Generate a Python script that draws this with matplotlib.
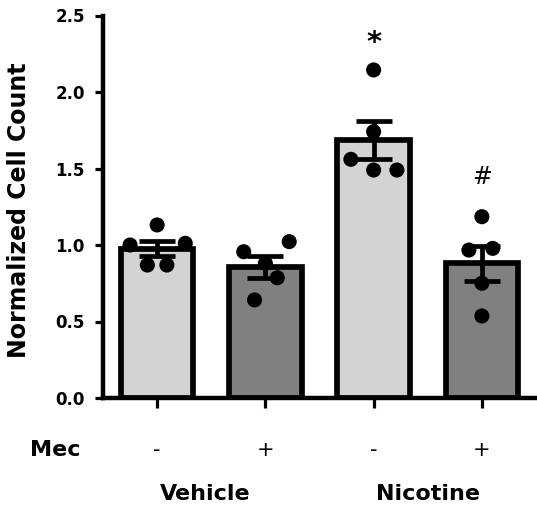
import matplotlib
matplotlib.use("Agg")
import matplotlib.pyplot as plt
import matplotlib.transforms as mtransforms
import numpy as np

# ---- data ----
mec_labels = ["-", "+", "-", "+"]
groups = ["Vehicle", "Nicotine"]
means = [0.976, 0.857, 1.685, 0.880]
sems = [0.048, 0.070, 0.125, 0.113]
points = [
    [1.131, 1.000, 1.011, 0.869, 0.869],
    [0.956, 1.022, 0.786, 0.641, 0.880],
    [2.144, 1.741, 1.560, 1.490, 1.490],
    [1.185, 0.967, 0.978, 0.750, 0.536],
]
# horizontal jitter of the dots (data units)
offsets = [
    [0.00, -0.25, 0.26, -0.09, 0.09],
    [-0.20, 0.22, 0.11, -0.10, 0.00],
    [0.00, 0.00, -0.21, 0.00, 0.215],
    [0.00, -0.12, 0.10, 0.00, 0.00],
]
marks = {0: None, 1: None, 2: "*", 3: "#"}
mark_y = [None, None, 2.32, 1.446]
yticks = [0.0, 0.5, 1.0, 1.5, 2.0, 2.5]
ytick_labels = ["0.0", "0.5", "1.0", "1.5", "2.0", "2.5"]
bar_colors = ["#D3D3D3", "#808080", "#D3D3D3", "#808080"]

W, H = 537, 508
fig = plt.figure(figsize=(W / 100, H / 100), dpi=100)
ax = fig.add_axes([103 / W, 1 - 398 / H, 433 / W, 382.5 / H])

x = np.arange(len(means))
ax.bar(x, means, width=0.67, color=bar_colors, edgecolor="black",
       linewidth=4.1, zorder=1)

for i in range(len(means)):
    xs = x[i] + np.array(offsets[i])
    ax.scatter(xs, points[i], s=118, color="black", zorder=3,
               edgecolors="none", clip_on=False)

ax.errorbar(x, means, yerr=sems, fmt="none", ecolor="black",
            elinewidth=3.4, capsize=13.3, capthick=3.4, zorder=4)

for i in range(len(means)):
    m = marks[i]
    if m:
        fs = 21 if m == "*" else 17
        fw = "bold" if m == "*" else "normal"
        ax.text(x[i], mark_y[i], m, ha="center", va="center",
                fontsize=fs, family="DejaVu Sans", fontweight=fw,
                color="black")

ax.set_xlim(-0.5, 3.5)
ax.set_ylim(0, 2.5)
ax.set_yticks(yticks)
ax.set_yticklabels(ytick_labels, family="DejaVu Sans", fontweight="bold",
                   fontsize=12)
ax.set_xticks(x)
ax.set_xticklabels([])

for s in ["top", "right"]:
    ax.spines[s].set_visible(False)
for s in ["left", "bottom"]:
    ax.spines[s].set_linewidth(3.2)
ax.tick_params(axis="y", length=6, width=2.3, pad=7)
ax.tick_params(axis="x", length=7.5, width=2.3)

ax.set_ylabel("Normalized Cell Count", family="DejaVu Sans",
              fontweight="bold", fontsize=17, va="center")
ax.yaxis.set_label_coords((19 - 103) / 433, (398 - 210) / 382.5)

trans = mtransforms.blended_transform_factory(ax.transData, ax.transAxes)
y_mec = (398 - 450) / 382.5
y_grp = (398 - 494) / 382.5
ax.text((55 - 103) / 433, y_mec, "Mec", transform=ax.transAxes,
        ha="center", va="center", family="DejaVu Sans", fontweight="bold",
        fontsize=16)
for i, lab in enumerate(mec_labels):
    ax.text(x[i], y_mec, lab, transform=trans, ha="center", va="center",
            family="DejaVu Sans", fontsize=15)
for j, g in enumerate(groups):
    ax.text((x[2 * j] + x[2 * j + 1]) / 2 - (0.06 if j == 0 else 0), y_grp, g,
            transform=trans, ha="center", va="center",
            family="DejaVu Sans", fontweight="bold", fontsize=16)

fig.savefig("out.png", dpi=100)
